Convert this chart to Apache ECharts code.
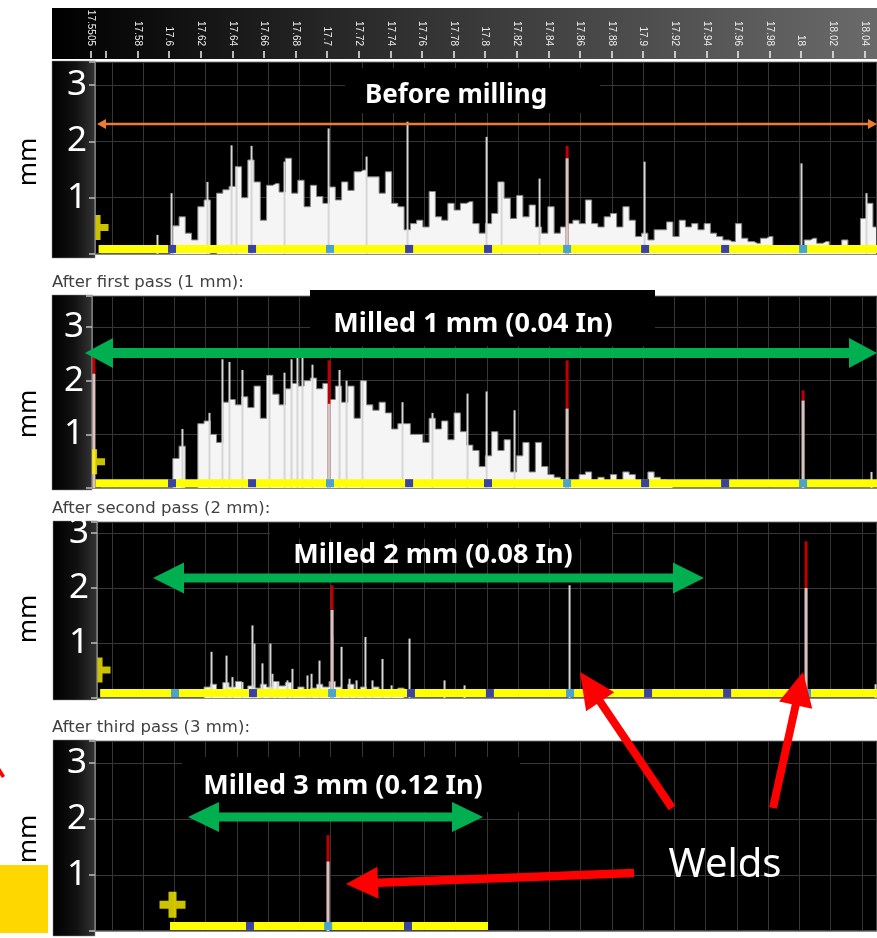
<!DOCTYPE html>
<html>
<head>
<meta charset="utf-8">
<script src="https://cdn.jsdelivr.net/npm/echarts@6/dist/echarts.min.js"></script>
<style>
  html, body { margin: 0; padding: 0; background: #fff; }
  #main { width: 877px; height: 938px; }
</style>
</head>
<body>
<div id="main"></div>
<script>
// ---------- data ----------
// top distance axis
const topTickValues = [17.5505, 17.56, 17.58, 17.6, 17.62, 17.64, 17.66, 17.68, 17.7, 17.72, 17.74, 17.76, 17.78,
  17.8, 17.82, 17.84, 17.86, 17.88, 17.9, 17.92, 17.94, 17.96, 17.98, 18, 18.02, 18.04]
const topLabelValues = [17.5505, 17.58, 17.6, 17.62, 17.64, 17.66, 17.68, 17.7, 17.72, 17.74, 17.76, 17.78,
  17.8, 17.82, 17.84, 17.86, 17.88, 17.9, 17.92, 17.94, 17.96, 17.98, 18, 18.02, 18.04]
const gridLineValues = [17.56, 17.58, 17.6, 17.62, 17.64, 17.66, 17.68, 17.7, 17.72, 17.74, 17.76, 17.78,
  17.8, 17.82, 17.84, 17.86, 17.88, 17.9, 17.92, 17.94, 17.96, 17.98, 18, 18.02, 18.04]
const yTickLabels = [1, 2, 3]

// profile samples (mm), one every 0.004 starting at 17.553
const sampleStart = 17.553
const sampleStep = 0.004

// before milling
const pass0Profile = [0, 0, 0, 0, 0, 0, 0, 0, 0, 0, 0, 0,
  0.5, 0.66, 0.37, 0.25, 0.84, 0.96, 0, 1.08, 1.14, 1.2,
  1.55, 1.0, 1.67, 1.28, 0.6, 1.22, 1.25, 1.1, 1.7, 1.08,
  1.31, 0.84, 1.22, 1.02, 0.9, 1.19, 0.96, 1.28, 1.13, 1.46,
  1.49, 1.37, 1.37, 1.08, 1.46, 0.9, 0.84, 0.43, 0.54, 0.6,
  0.48, 1.11, 0.66, 0.6, 0.9, 0.78, 0.9, 0.93, 0.54, 0.37,
  0.54, 0.72, 1.28, 0.99, 0.63, 1.04, 0.66, 0.87, 0.48, 0.37,
  0.84, 0.37, 0.48, 0.54, 0.6, 0.54, 0.96, 0.54, 0.48, 0.66,
  0.72, 0.48, 0.84, 0.6, 0.31, 0.37, 0.25, 0.43, 0.43, 0.57,
  0.31, 0.6, 0.48, 0.54, 0.43, 0.54, 0.37, 0.31, 0.25, 0.22,
  0.54, 0.28, 0.22, 0.19, 0.28, 0.31, 0.13, 0.13, 0.13, 0.13,
  0.13, 0.25, 0.28, 0.19, 0.22, 0.13, 0.13, 0.25, 0.13, 0.13,
  0.63, 0.9, 0.48]
const pass0SpikeX = [17.5895, 17.5985, 17.6215, 17.6369, 17.6401, 17.6497, 17.6708, 17.699, 17.7233, 17.7495,
  17.8001, 17.8097, 17.834, 17.9012, 18.0016, 18.0432]
const pass0SpikeY = [0.34, 1.08, 1.28, 1.93, 1.55, 1.92, 1.64, 2.23, 1.73, 2.35,
  2.08, 1.28, 1.34, 1.64, 1.61, 1.08]
const pass0WeldX = [17.8513]
const pass0WeldRedFrom = [1.7]
const pass0WeldTop = [1.92]
const pass0Band = [17.5515, 18.05]
const pass0MarkerX = [17.5985, 17.6497, 17.6996, 17.7502, 17.8007, 17.8513, 17.9012, 17.9524, 18.0023]
const pass0MarkerShade = [0, 0, 1, 0, 0, 1, 0, 0, 1]
const pass0Plus = [17.5537, 0.47]

// after first pass (1 mm)
const pass1Profile = [0, 0, 0, 0, 0, 0, 0, 0, 0, 0, 0, 0,
  0.55, 0.78, 0, 0, 1.2, 1.25, 1.0, 0.85, 1.6, 1.65,
  1.55, 1.7, 1.5, 1.9, 1.3, 2.1, 1.75, 1.55, 1.85, 1.95,
  1.9, 2.0, 2.05, 1.85, 1.95, 1.65, 1.9, 1.6, 1.9, 1.3,
  2.0, 1.55, 1.45, 1.6, 1.4, 1.1, 1.2, 1.2, 1.0, 1.0,
  0.85, 1.3, 1.1, 1.25, 0.9, 1.4, 1.05, 0.8, 0.7, 0.4,
  0.6, 1.05, 0.7, 0.9, 0.3, 0.6, 0.85, 0.3, 0.85, 0.4,
  0.25, 0.2, 0.15, 0.1, 0.1, 0.25, 0.3, 0.15, 0.2, 0.12,
  0.25, 0.15, 0.3, 0.25, 0.1, 0.1, 0.3, 0.2, 0.15, 0.1,
  0, 0, 0, 0, 0, 0, 0, 0, 0, 0, 0, 0, 0, 0, 0, 0, 0,
  0, 0, 0, 0, 0, 0, 0, 0, 0, 0, 0, 0, 0, 0, 0, 0]
const pass1SpikeX = [17.6055, 17.6228, 17.6311, 17.6356, 17.6439, 17.6612, 17.6708, 17.6753, 17.6791, 17.6823,
  17.6887, 17.706, 17.7105, 17.7207, 17.7463, 17.7655, 17.7879, 17.8001, 17.818, 18.0464]
const pass1SpikeY = [1.1, 1.4, 2.4, 2.35, 2.2, 2.1, 2.15, 2.4, 2.6, 2.6,
  2.3, 2.2, 2.0, 2.0, 1.6, 1.4, 1.76, 1.8, 1.45, 0.3]
const pass1WeldX = [17.5485, 17.699, 17.8513, 18.0023]
const pass1WeldRedFrom = [2.13, 1.57, 1.48, 1.63]
const pass1WeldTop = [2.44, 2.38, 2.38, 1.82]
const pass1Band = [17.5495, 18.05]
const pass1MarkerX = [17.5985, 17.6497, 17.6996, 17.7502, 17.8007, 17.8513, 17.9012, 17.9524, 18.0023]
const pass1MarkerShade = [0, 0, 1, 0, 0, 1, 0, 0, 1]
const pass1Plus = [17.5515, 0.49]

// after second pass (2 mm)
const pass2Profile = [0, 0, 0, 0, 0, 0, 0, 0, 0, 0, 0, 0, 0, 0, 0, 0, 0,
  0.2, 0.25, 0.15, 0.28, 0.2, 0.3, 0.15, 0.22, 0.18, 0.25,
  0.2, 0.3, 0.22, 0.28, 0.15, 0.2, 0.1, 0.18, 0.25, 0.2,
  0.3, 0.2, 0.15, 0.25, 0.12, 0.2, 0.1, 0.2, 0.1, 0.15,
  0.1, 0.18,
  0, 0, 0, 0, 0, 0, 0, 0, 0, 0, 0, 0, 0, 0, 0, 0, 0, 0, 0,
  0, 0, 0, 0, 0, 0, 0, 0, 0, 0, 0, 0, 0, 0, 0, 0, 0, 0, 0,
  0, 0, 0, 0, 0, 0, 0, 0, 0, 0, 0, 0, 0, 0, 0, 0, 0, 0, 0,
  0, 0, 0, 0, 0, 0, 0, 0, 0, 0, 0, 0, 0, 0, 0, 0, 0, 0, 0]
const pass2SpikeX = [17.6241, 17.6337, 17.6375, 17.6439, 17.6503, 17.6516, 17.6567, 17.6618, 17.6631, 17.6663,
  17.6727, 17.6759, 17.6855, 17.6881, 17.6932, 17.7015, 17.7073, 17.7124, 17.7169, 17.7226,
  17.7271, 17.7335, 17.7393, 17.7508, 17.7732, 17.786, 17.8532, 18.049]
const pass2SpikeY = [0.84, 0.77, 0.38, 0.29, 1.32, 0.99, 0.63, 0.99, 0.44, 0.29,
  0.32, 0.53, 0.41, 0.44, 0.68, 1.11, 0.93, 0.35, 0.32, 1.11,
  0.32, 0.71, 0.23, 1.08, 0.32, 0.23, 2.05, 0.25]
const pass2WeldX = [17.7009, 18.0042]
const pass2WeldRedFrom = [1.6, 2.0]
const pass2WeldTop = [2.05, 2.85]
const pass2Band = [17.5525, 18.05]
const pass2MarkerX = [17.6004, 17.6503, 17.7009, 17.7514, 17.8019, 17.8532, 17.9031, 17.9537, 18.0048]
const pass2MarkerShade = [1, 0, 1, 0, 0, 1, 0, 0, 1]
const pass2Plus = [17.555, 0.51]

// after third pass (3 mm)
const pass3Profile = []
const pass3SpikeX = []
const pass3SpikeY = []
const pass3WeldX = [17.6983]
const pass3WeldRedFrom = [1.24]
const pass3WeldTop = [1.71]
const pass3Band = [17.5972, 17.8007]
const pass3MarkerX = [17.6484, 17.6984, 17.7495]
const pass3MarkerShade = [0, 1, 0]
const pass3Plus = [17.5988, 0.47]

// ---------- layout ----------
const passes = [
  { profile: pass0Profile, spikeX: pass0SpikeX, spikeY: pass0SpikeY, weldX: pass0WeldX, weldRedFrom: pass0WeldRedFrom, weldTop: pass0WeldTop, band: pass0Band, markerX: pass0MarkerX, markerShade: pass0MarkerShade, plus: pass0Plus },
  { profile: pass1Profile, spikeX: pass1SpikeX, spikeY: pass1SpikeY, weldX: pass1WeldX, weldRedFrom: pass1WeldRedFrom, weldTop: pass1WeldTop, band: pass1Band, markerX: pass1MarkerX, markerShade: pass1MarkerShade, plus: pass1Plus },
  { profile: pass2Profile, spikeX: pass2SpikeX, spikeY: pass2SpikeY, weldX: pass2WeldX, weldRedFrom: pass2WeldRedFrom, weldTop: pass2WeldTop, band: pass2Band, markerX: pass2MarkerX, markerShade: pass2MarkerShade, plus: pass2Plus },
  { profile: pass3Profile, spikeX: pass3SpikeX, spikeY: pass3SpikeY, weldX: pass3WeldX, weldRedFrom: pass3WeldRedFrom, weldTop: pass3WeldTop, band: pass3Band, markerX: pass3MarkerX, markerShade: pass3MarkerShade, plus: pass3Plus }
]
const layout = [
  { left: 95, top: 62, height: 192, xMin: 17.5492, yMax: 3.41, stripLeft: 52, bottom: 258, half: true },
  { left: 92, top: 296, height: 192, xMin: 17.5473, yMax: 3.58, stripLeft: 52, bottom: 490, half: true },
  { left: 97, top: 522, height: 176, xMin: 17.5505, yMax: 3.2, stripLeft: 53, bottom: 700, half: true },
  { left: 95, top: 741, height: 190, xMin: 17.5492, yMax: 3.39, stripLeft: 53, bottom: 936, half: false }
]
const xMax = 18.0496

const halfPlus = 'path://M0,0H5V9H13V16H5V25H0Z'
const fullPlus = 'path://M9,0H17V9H26V17H17V26H9V17H0V9H9Z'

const init = () => {
  const myChart = echarts.init(document.getElementById('main'))

  const grid = []
  const xAxis = []
  const yAxis = []
  const series = []

  layout.forEach((l, k) => {
    grid.push({
      left: l.left, right: 0, top: l.top, height: l.height,
      show: true, backgroundColor: '#000', borderColor: '#8a8a8a', borderWidth: 1,
      outerBoundsMode: 'none'
    })
    xAxis.push({
      type: 'value', gridIndex: k, min: l.xMin, max: xMax,
      axisLabel: { show: false },
      axisTick: { show: false, customValues: gridLineValues },
      axisLine: { show: true, onZero: false, lineStyle: { color: '#8a8a8a', width: 1 } },
      splitLine: { show: true, lineStyle: { color: '#363636', width: 1 } }
    })
    yAxis.push({
      type: 'value', gridIndex: k, min: 0, max: l.yMax, interval: 1,
      axisLine: { show: true, lineStyle: { color: '#777' } },
      axisTick: { show: true, length: 6, lineStyle: { color: '#bdbdbd', width: 1.5 } },
      axisLabel: {
        color: '#fff', fontSize: 35, fontFamily: 'Noto Sans', margin: 8,
        formatter: (v) => (yTickLabels.indexOf(v) >= 0 ? String(v) : '')
      },
      splitLine: { show: true, lineStyle: { color: '#363636', width: 1 } }
    })
  })

  // top distance ruler
  grid.push({ left: 91, right: 0, top: 8, height: 50, outerBoundsMode: 'none' })
  xAxis.push({
    type: 'value', gridIndex: 4, min: 17.5505, max: 18.048, position: 'bottom',
    axisLine: { show: false },
    axisTick: { show: true, inside: true, length: 7, lineStyle: { color: '#eee', width: 1.5 }, customValues: topTickValues },
    axisLabel: {
      inside: true, rotate: -90, margin: 12, color: '#ececec', fontSize: 10, fontFamily: 'Liberation Sans',
      customValues: topLabelValues,
      formatter: (v) => String(Number(v.toFixed(4)))
    },
    splitLine: { show: false }
  })
  yAxis.push({ type: 'value', gridIndex: 4, min: 0, max: 1, show: false })

  passes.forEach((p, k) => {
    if (p.profile.length) {
      series.push({
        type: 'line', xAxisIndex: k, yAxisIndex: k, step: 'middle', symbol: 'none', z: 2,
        data: p.profile.map((v, i) => [sampleStart + i * sampleStep, v]),
        lineStyle: { color: '#858585', width: 1 },
        areaStyle: { color: '#f5f5f5', opacity: 1 }
      })
    }
    if (p.spikeX.length) {
      series.push({
        type: 'bar', xAxisIndex: k, yAxisIndex: k, barWidth: 2, barGap: '-100%', z: 3,
        data: p.spikeX.map((x, i) => [x, p.spikeY[i]]),
        itemStyle: { color: '#d6d6d6' }
      })
    }
    // weld peaks: red full height, grey body drawn over it up to where red starts
    series.push({
      type: 'bar', xAxisIndex: k, yAxisIndex: k, barWidth: 3, barGap: '-100%', z: 3,
      data: p.weldX.map((x, i) => [x, p.weldTop[i]]),
      itemStyle: { color: '#c00000' }
    })
    series.push({
      type: 'bar', xAxisIndex: k, yAxisIndex: k, barWidth: 3, barGap: '-100%', z: 4,
      data: p.weldX.map((x, i) => [x, p.weldRedFrom[i]]),
      itemStyle: { color: '#c9c9c9' }
    })
    // yellow scan band with blue station marks
    series.push({
      type: 'line', xAxisIndex: k, yAxisIndex: k, symbol: 'none', z: 5,
      data: [[p.band[0], 0.09], [p.band[1], 0.09]],
      lineStyle: { color: '#ffff00', width: 8, cap: 'butt' }
    })
    series.push({
      type: 'scatter', xAxisIndex: k, yAxisIndex: k, symbol: 'rect', symbolSize: [8, 8], z: 6,
      data: p.markerX.map((x, i) => ({
        value: [x, 0.09],
        itemStyle: { color: p.markerShade[i] ? '#1e8cff' : '#0a14c8' }
      }))
    })
    series.push({
      type: 'scatter', xAxisIndex: k, yAxisIndex: k, z: 6,
      symbol: layout[k].half ? halfPlus : fullPlus,
      symbolSize: layout[k].half ? [13, 25] : [26, 26],
      data: [p.plus],
      itemStyle: { color: '#fff200' }
    })
  })

  // ---------- annotations ----------
  const doubleArrow = (x1, x2, y, t, h, hh) => [
    [x1, y], [x1 + h, y - hh], [x1 + h, y - t / 2], [x2 - h, y - t / 2], [x2 - h, y - hh],
    [x2, y], [x2 - h, y + hh], [x2 - h, y + t / 2], [x1 + h, y + t / 2], [x1 + h, y + hh]
  ]
  const singleArrow = (x0, y0, x1, y1, t, h, hw) => {
    const L = Math.hypot(x1 - x0, y1 - y0)
    const ux = (x1 - x0) / L, uy = (y1 - y0) / L
    const nx = -uy, ny = ux
    const bx = x1 - ux * h, by = y1 - uy * h
    return [
      [x0 + nx * t / 2, y0 + ny * t / 2], [bx + nx * t / 2, by + ny * t / 2], [bx + nx * hw, by + ny * hw],
      [x1, y1], [bx - nx * hw, by - ny * hw], [bx - nx * t / 2, by - ny * t / 2], [x0 - nx * t / 2, y0 - ny * t / 2]
    ]
  }
  const darkStrip = new echarts.graphic.LinearGradient(0, 0, 1, 0, [
    { offset: 0, color: '#000' }, { offset: 0.55, color: '#111' }, { offset: 1, color: '#333' }
  ])
  const rulerFill = new echarts.graphic.LinearGradient(0, 0, 1, 0, [
    { offset: 0, color: '#000' }, { offset: 0.45, color: '#333' }, { offset: 1, color: '#6a6a6a' }
  ])

  const graphic = [
    { type: 'rect', z: -10, shape: { x: 52, y: 8, width: 825, height: 51 }, style: { fill: rulerFill } }
  ]
  layout.forEach((l) => {
    graphic.push({ type: 'rect', z: -10, shape: { x: l.stripLeft, y: l.top - 1, width: l.left - l.stripLeft, height: l.bottom - l.top + 1 }, style: { fill: darkStrip, stroke: '#8a8a8a', lineWidth: 0.5 } })
  })

  const titles = [['After first pass (1 mm):', 283], ['After second pass (2 mm):', 509], ['After third pass (3 mm):', 728]]
  titles.forEach(([t, y]) => {
    graphic.push({ type: 'text', z: 30, x: 52, y: y, style: { text: t, fill: '#404040', font: '16.5px "DejaVu Sans"', verticalAlign: 'middle' } })
  })
  const mmPos = [162, 414, 619, 839]
  mmPos.forEach((y) => {
    graphic.push({ type: 'text', z: 30, x: 29, y: y, rotation: Math.PI / 2, style: { text: 'mm', fill: '#000', font: '26px "Noto Sans"', align: 'center', verticalAlign: 'middle' } })
  })

  // black label boxes hiding the grid
  const boxes = [[345, 68, 255, 45], [310, 290, 345, 56], [270, 528, 342, 11], [182, 757, 338, 55]]
  boxes.forEach(([x, y, w, h]) => {
    graphic.push({ type: 'rect', z: 20, shape: { x, y, width: w, height: h }, style: { fill: '#000' } })
  })
  const labels = [
    ['Before milling', 456, 96, 26],
    ['Milled 1 mm (0.04 In)', 473, 324, 27],
    ['Milled 2 mm (0.08 In)', 433, 555, 27],
    ['Milled 3 mm (0.12 In)', 343, 786, 27]
  ]
  labels.forEach(([t, x, y, s]) => {
    graphic.push({ type: 'text', z: 40, x, y, style: { text: t, fill: '#fff', font: 'bold ' + s + 'px "Noto Sans"', align: 'center', verticalAlign: 'middle' } })
  })

  graphic.push({ type: 'polygon', z: 35, shape: { points: doubleArrow(97, 877, 124, 2.5, 9, 5) }, style: { fill: '#ed7d31' } })
  graphic.push({ type: 'polygon', z: 35, shape: { points: doubleArrow(85, 877, 353, 10, 28, 15) }, style: { fill: '#00b050' } })
  graphic.push({ type: 'polygon', z: 35, shape: { points: doubleArrow(153, 704, 578, 9, 31, 15.5) }, style: { fill: '#00b050' } })
  graphic.push({ type: 'polygon', z: 35, shape: { points: doubleArrow(188, 483, 817, 9, 31, 15) }, style: { fill: '#00b050' } })

  graphic.push({ type: 'polygon', z: 35, shape: { points: singleArrow(672, 808, 580, 672, 8, 36, 17) }, style: { fill: '#ff0000' } })
  graphic.push({ type: 'polygon', z: 35, shape: { points: singleArrow(773, 808, 803, 672, 8, 34, 17) }, style: { fill: '#ff0000' } })
  graphic.push({ type: 'polygon', z: 35, shape: { points: singleArrow(634, 873, 346, 884, 8.5, 32, 16) }, style: { fill: '#ff0000' } })
  graphic.push({ type: 'text', z: 40, x: 725, y: 866, style: { text: 'Welds', fill: '#fff', font: '40px "Noto Sans"', align: 'center', verticalAlign: 'middle' } })

  graphic.push({ type: 'rect', z: 30, shape: { x: 0, y: 865, width: 48, height: 68 }, style: { fill: '#ffd700' } })
  graphic.push({ type: 'polygon', z: 30, shape: { points: [[0, 768], [5, 776], [2, 778], [0, 775]] }, style: { fill: '#ff0000' } })

  const option = {
    animation: false,
    backgroundColor: '#fff',
    grid: grid,
    xAxis: xAxis,
    yAxis: yAxis,
    series: series,
    graphic: { elements: graphic }
  }

  option && myChart.setOption(option)
}

init()
</script>
</body>
</html>
